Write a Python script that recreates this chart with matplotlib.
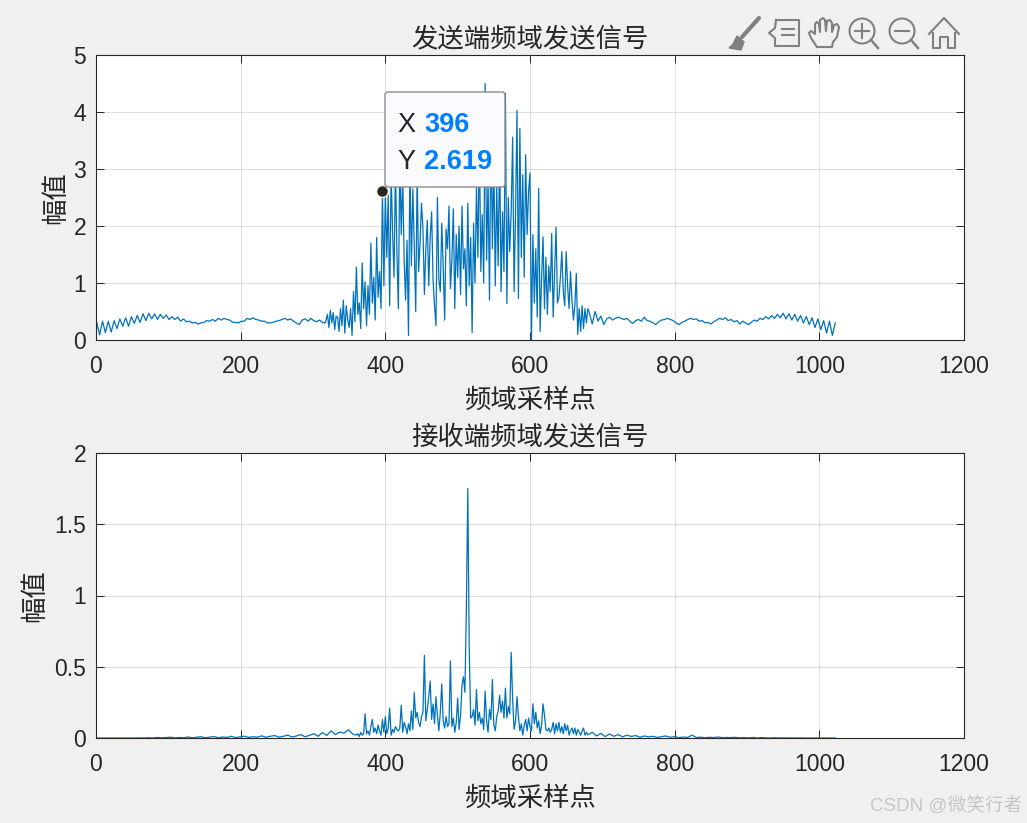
import numpy as np
import matplotlib
matplotlib.use('Agg')
import matplotlib.pyplot as plt
from matplotlib.patches import Circle, FancyBboxPatch, Polygon

plt.rcParams['font.family'] = ['Liberation Sans', 'Noto Sans CJK SC']

# 发送端, 按段读取 (每段一个起点和步长)
tx_left = [0.31,0.09,0.33,0.13,0.33,0.14,0.34,0.20,0.37,0.24,0.39,0.24,0.41,0.29,0.43,0.31,
           0.46,0.34,0.47,0.37,0.46,0.36,0.45,0.38,0.44,0.36,0.41,0.36,0.40,0.33,0.37,0.32,
           0.33,0.30,0.31,0.28,0.30,0.31,0.34,0.33,0.36,0.33,0.38,0.35,0.38,0.36,0.35,0.31,
           0.31,0.30,0.33,0.33,0.38,0.36,0.39,0.36,0.35,0.33,0.33,0.30,0.30,0.31,0.33,0.34,
           0.36,0.38,0.35,0.37,0.33,0.30,0.27,0.35,0.37,0.33,0.38,0.34,0.32,0.35,0.31,0.30]
tx_rise = [0.45,0.22,0.52,0.30,0.48,0.18,0.42,0.40,0.15,0.55,0.25,0.70,0.12,0.60,0.35,0.22,
           0.55,0.08,0.85,0.32,1.28,0.45,0.65,0.20,1.35,0.55,1.02,0.25,0.95,0.45,1.70,0.65,
           1.10,0.35,1.80,0.75,1.20,0.55,2.619]
tx_mid1 = [0.95,2.60,1.45,2.55,0.60,2.95,1.90,1.10,3.05,1.55,0.55,3.20,1.85,2.90,1.40,0.70,
           1.75,0.08,3.10,1.30,2.65,1.65,0.50,2.95,1.20,1.70,2.40,1.95,0.80,1.60,2.10,0.95,
           1.80,2.25,1.05,0.60,0.25]
tx_mid2 = [2.50,1.05,0.85,2.05,1.30,0.35,1.95,1.60,2.35,0.90,1.40,2.30,0.55,1.85,1.10,2.00,
           0.80,2.35,1.25,1.60,0.60,2.40,0.95,1.80,0.13,2.05,1.00,2.70,1.45,3.60,1.20,2.20,
           1.00,4.50,1.40,2.80,0.70,3.85,1.60,3.20,0.95,2.70,1.30,3.45,0.85,2.25,1.20,4.33,
           0.64,2.50,1.55,2.25,3.56,0.85,2.20,4.03,0.73,3.71,1.45,2.90,1.10,3.25,1.85,2.60,2.93]
tx_fall = [0.00,1.85,0.65,1.60,0.40,2.66,0.15,1.10,1.81,0.55,1.45,0.45,1.30,0.85,1.87,0.40,
           1.20,1.98,0.65,0.75,1.10,1.55,0.85,0.60,1.55,0.95,0.55,1.20,0.70,0.35,0.60,1.17,
           0.10,0.55,0.15,0.60,0.20,0.55,0.30,0.55]
tx_right = [0.48,0.28,0.50,0.33,0.42,0.27,0.37,0.40,0.35,0.38,0.40,0.38,0.36,0.38,0.33,0.29,
            0.34,0.36,0.33,0.40,0.34,0.33,0.30,0.27,0.32,0.35,0.36,0.38,0.36,0.34,0.30,0.27,0.31,
            0.33,0.36,0.38,0.36,0.37,0.33,0.34,0.30,0.31,0.28,0.32,0.35,0.38,0.36,0.39,0.34,
            0.36,0.32,0.34,0.28,0.33,0.30,0.27,0.31,0.35,0.33,0.38,0.36,0.41,0.37,0.43,0.38,
            0.45,0.39,0.47,0.37,0.46,0.35,0.45,0.33,0.43,0.30,0.41,0.27,0.39,0.22,0.37,0.18,
            0.34,0.12,0.33,0.08,0.30]

# 接收端
rx_left = [.000,.000,.000,.000,.000,.000,.000,.000,.000,.000,.001,.000,.002,.000,.004,.001,
           .003,.006,.001,.004,.002,.007,.001,.005,.009,.002,.006,.010,.002,.007,.004,.012,
           .003,.008,.013,.004,.009,.006,.015,.005,.012,.017,.006,.012,.020,.007,.014,.024,
           .009,.018,.030,.012,.038,.018,.050,.024,.042,.034,.058,.028]
rx_center = [.02,.03,.01,.04,.02,.03,.17,.03,.05,.02,
             .08,.13,.04,.07,.03,.09,.05,.02,.13,.04,
             .15,.03,.07,.21,.02,.06,.04,.08,.06,.05,
             .07,.23,.04,.11,.08,.03,.10,.05,.19,.06,
             .32,.14,.18,.11,.08,.15,.18,.58,.12,.20,
             .29,.40,.13,.24,.10,.29,.16,.05,.18,.38,
             .12,.07,.15,.08,.10,.54,.08,.14,.04,.11,
             .28,.06,.16,.37,.43,.32,.90,1.75,.62,.14,
             .15,.20,.09,.34,.12,.18,.10,.14,.06,.33,
             .12,.04,.20,.13,.41,.09,.05,.15,.19,.30,
             .18,.26,.14,.35,.14,.22,.17,.60,.27,.06,
             .12,.29,.15,.05,.10,.02,.09,.13,.05,.14,
             .08,.05,.24,.10,.18,.07,.12,.03,.09,.24,
             .16,.06,.05,.07,.04,.06,.11,.03,.10,.05,
             .11,.04,.08,.03,.10,.05,.09,.02,.05,.07,
             .03,.07,.02,.06,.04,.02,.05,.07,.02,.04]
rx_right = [.022,.040,.014,.032,.010,.028,.012,.024,.008,.020,.011,.017,.005,.014,.008,.012,
            .004,.010,.014,.005,.009,.003,.007,.004,.020,.003,.006,.002,.005,.003,.007,.002,
            .004,.003,.005,.001,.003,.001,.004,.000,.003,.001,.000,.002,.000,.001,.000,.001,
            .000,.001,.000,.000,.000,.000,.000,.000,.000,.000]

xticks = [0, 200, 400, 600, 800, 1000, 1200]
yticks_top = [0, 1, 2, 3, 4, 5]
yticks_bottom = [0, 0.5, 1, 1.5, 2]
ylabels_bottom = ['0', '0.5', '1', '1.5', '2']
tip_x = 396
tip_y = 2.619

W, H = 1027, 823
BLUE = '#0072BD'
DARK = '#262626'
GRAY = '#808080'


def segments(*parts):
    # parts: (起点, 步长, 数值)
    xs, ys = [], []
    for start, step, vals in parts:
        xs.append(start + step * np.arange(len(vals)))
        ys.append(vals)
    return np.concatenate(xs), np.concatenate(ys)


def setup_axes(top, bottom, ymax, yticks, ylabels, title, ylab_x):
    ax = fig.add_axes([96 / W, 1 - bottom / H, 868 / W, (bottom - top) / H])
    ax.set_facecolor('white')
    ax.set_xlim(0, 1200)
    ax.set_ylim(0, ymax)
    ax.set_xticks(xticks)
    ax.set_yticks(yticks)
    ax.set_yticklabels(ylabels)
    ax.tick_params(direction='in', length=6, width=0.7, color=DARK, labelcolor=DARK,
                   labelsize=16.5, top=True, right=True)
    ax.tick_params(axis='x', pad=11)
    ax.tick_params(axis='y', pad=7)
    ax.grid(True, color=DARK, alpha=0.15, linewidth=0.7)
    ax.set_axisbelow(True)
    for s in ax.spines.values():
        s.set_linewidth(0.8)
        s.set_color(DARK)
    ax.set_title(title, fontsize=19, color=DARK, pad=6)
    ax.set_xlabel('频域采样点', fontsize=19, color=DARK, labelpad=7)
    ax.set_ylabel('幅值', fontsize=19, color=DARK)
    ax.yaxis.set_label_coords((ylab_x - 96) / 868, 0.5)
    return ax


fig = plt.figure(figsize=(W / 100, H / 100), dpi=100, facecolor='#F0F0F0')

ax1 = setup_axes(55, 340, 5, yticks_top, [str(v) for v in yticks_top], '发送端频域发送信号', 68)
x1, y1 = segments((1, 4, tx_left), (320, 2, tx_rise), (398, 2, tx_mid1), (472, 2, tx_mid2),
                  (602, 2, tx_fall), (682, 4, tx_right))
ax1.plot(x1, y1, color=BLUE, linewidth=0.9)
ax1.plot([tip_x], [tip_y], 'o', color=DARK, markersize=8.5, markeredgecolor='#FFFBD0',
         markeredgewidth=1, clip_on=False, zorder=5)

ax2 = setup_axes(453, 738, 2, yticks_bottom, ylabels_bottom, '接收端频域发送信号', 47)
x2, y2 = segments((1, 6, rx_left), (360, 2, rx_center), (680, 6, rx_right))
ax2.plot(x2, y2, color=BLUE, linewidth=0.9)

# 叠加层: 像素坐标, 放数据提示框和工具栏图标
ov = fig.add_axes([0, 0, 1, 1], zorder=10)
ov.set_xlim(0, W)
ov.set_ylim(H, 0)
ov.axis('off')

ov.add_patch(FancyBboxPatch((388, 95), 114, 89, boxstyle='round,pad=3', facecolor='#FAFAFF',
                            edgecolor='#8C8C8C', linewidth=1))
ov.text(397, 125, 'X', fontsize=19.5, color=DARK, va='center')
ov.text(424, 125, str(tip_x), fontsize=19.5, color='#0080FF', fontweight='bold', va='center')
ov.text(397, 162, 'Y', fontsize=19.5, color=DARK, va='center')
ov.text(424, 162, str(tip_y), fontsize=19.5, color='#0080FF', fontweight='bold', va='center')

# 工具栏
ov.plot([759, 742], [18, 37], color=GRAY, linewidth=3, solid_capstyle='round')
ov.add_patch(Polygon([(737, 36), (744, 42), (741, 50), (729, 48), (733, 44)], facecolor=GRAY, edgecolor=GRAY))
ov.plot([776, 799, 799, 775, 775, 769, 775, 776], [20, 20, 46, 46, 38, 33, 28, 20], color=GRAY, linewidth=1.5)
ov.plot([782, 794], [29, 29], color=GRAY, linewidth=1.5)
ov.plot([782, 794], [35, 35], color=GRAY, linewidth=1.5)
hand = [(817, 47), (811, 38), (809, 33), (811, 31), (815, 34), (815, 24), (817, 22), (819, 24), (820, 32),
        (820, 20), (823, 18), (825, 20), (826, 31), (827, 21), (830, 20), (832, 23), (832, 32), (834, 25),
        (837, 24), (839, 27), (837, 37), (833, 42), (832, 47), (817, 47)]
ov.plot([p[0] for p in hand], [p[1] for p in hand], color=GRAY, linewidth=1.5)
for cx in (862, 902):
    ov.add_patch(Circle((cx, 31), 12.5, fill=False, edgecolor=GRAY, linewidth=1.5))
    ov.plot([cx + 9, cx + 16], [40, 48], color=GRAY, linewidth=1.8)
    ov.plot([cx - 7, cx + 7], [31, 31], color=GRAY, linewidth=1.5)
ov.plot([862, 862], [24, 38], color=GRAY, linewidth=1.5)
ov.plot([929, 944, 959], [34, 18, 34], color=GRAY, linewidth=1.5)
ov.plot([933, 933, 940, 940, 948, 948, 955, 955], [33, 48, 48, 37, 37, 48, 48, 33], color=GRAY, linewidth=1.5)

ov.text(1023, 806, 'CSDN @微笑行者', fontsize=13.5, color='#C6C6C6', ha='right', va='center')

fig.savefig('out.png', dpi=100, facecolor=fig.get_facecolor())
